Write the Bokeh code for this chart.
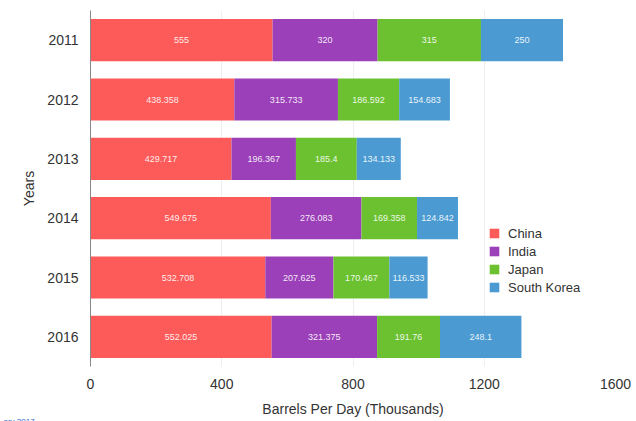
import math
from bokeh.plotting import figure
from bokeh.models import ColumnDataSource, FactorRange, Range1d, Legend, LegendItem, Title, FixedTicker
from bokeh.core.properties import value
from bokeh.embed import file_html
from bokeh.resources import INLINE

years = ["2011", "2012", "2013", "2014", "2015", "2016"]
countries = ["China", "India", "Japan", "South Korea"]
china = [555, 438.358, 429.717, 549.675, 532.708, 552.025]
india = [320, 315.733, 196.367, 276.083, 207.625, 321.375]
japan = [315, 186.592, 185.4, 169.358, 170.467, 191.76]
skorea = [250, 154.683, 134.133, 124.842, 116.533, 248.1]
colors = ["#fd5b59", "#9b40b8", "#6bc130", "#4b9bd2"]
x_ticks = [0, 400, 800, 1200, 1600]
footnote = "ary 2017"

FONT = "Liberation Sans"
series = [china, india, japan, skorea]

data = {"year": years}
for name, vals in zip(countries, series):
    data[name] = vals
source = ColumnDataSource(data)

p = figure(width=636, height=421, output_backend="svg", toolbar_location=None,
           y_range=FactorRange(factors=list(reversed(years)), range_padding=0),
           x_range=Range1d(0, 1600),
           min_border_left=90, min_border_right=21, min_border_top=10, min_border_bottom=50)
p.outline_line_color = None
p.background_fill_color = "white"

renderers = p.hbar_stack(countries, y="year", height=0.71, color=colors, line_color=None, source=source)

# segment labels
lx, ly, lt = [], [], []
for i, y in enumerate(years):
    left = 0
    for vals in series:
        v = vals[i]
        lx.append(left + v / 2)
        ly.append(y)
        lt.append(f"{v:g}")
        left += v
lsrc = ColumnDataSource(dict(x=lx, y=ly, t=lt))
p.text(x="x", y="y", text="t", source=lsrc, text_color="white", text_alpha=0.9,
       text_font=value(FONT), text_font_size="9px", text_align="center", text_baseline="middle")

# axes
p.xaxis.ticker = FixedTicker(ticks=x_ticks)
p.xaxis.axis_label = "Barrels Per Day (Thousands)"
p.xaxis.axis_line_color = None
p.xaxis.major_tick_line_color = None
p.xaxis.minor_tick_line_color = None
p.xaxis.major_label_text_font = FONT
p.xaxis.major_label_text_font_size = "14px"
p.xaxis.major_label_text_color = "#333333"
p.xaxis.major_label_standoff = 6
p.xaxis.axis_label_text_font = FONT
p.xaxis.axis_label_text_font_size = "14px"
p.xaxis.axis_label_text_font_style = "normal"
p.xaxis.axis_label_text_color = "#333333"
p.xaxis.axis_label_standoff = 9

p.yaxis.axis_label = "Years"
p.yaxis.axis_line_color = "#888888"
p.yaxis.major_tick_line_color = None
p.yaxis.minor_tick_line_color = None
p.yaxis.major_label_text_font = FONT
p.yaxis.major_label_text_font_size = "14px"
p.yaxis.major_label_text_color = "#333333"
p.yaxis.major_label_standoff = 6
p.yaxis.axis_label_text_font = FONT
p.yaxis.axis_label_text_font_size = "14px"
p.yaxis.axis_label_text_font_style = "normal"
p.yaxis.axis_label_text_color = "#333333"
p.yaxis.axis_label_standoff = 7

p.ygrid.grid_line_color = None
p.xgrid.grid_line_color = "#eeeeee"
p.xgrid.ticker = FixedTicker(ticks=x_ticks[1:])

legend = Legend(items=[LegendItem(label=c, renderers=[r]) for c, r in zip(countries, renderers)],
                location=(398, 71), border_line_color=None, background_fill_alpha=0,
                label_text_font=FONT, label_text_font_size="13px", label_text_color="#333333",
                glyph_width=12, glyph_height=12, label_height=16, spacing=2, padding=4,
                label_standoff=8, margin=0)
p.add_layout(legend)

note = Title(text=footnote, align="left", offset=-87, standoff=-9,
             text_font=FONT, text_font_size="8px", text_font_style="normal",
             text_color="#2a66cc", text_line_height=0.6)
p.add_layout(note, "below")

open("out.html", "w").write(file_html(p, INLINE))
